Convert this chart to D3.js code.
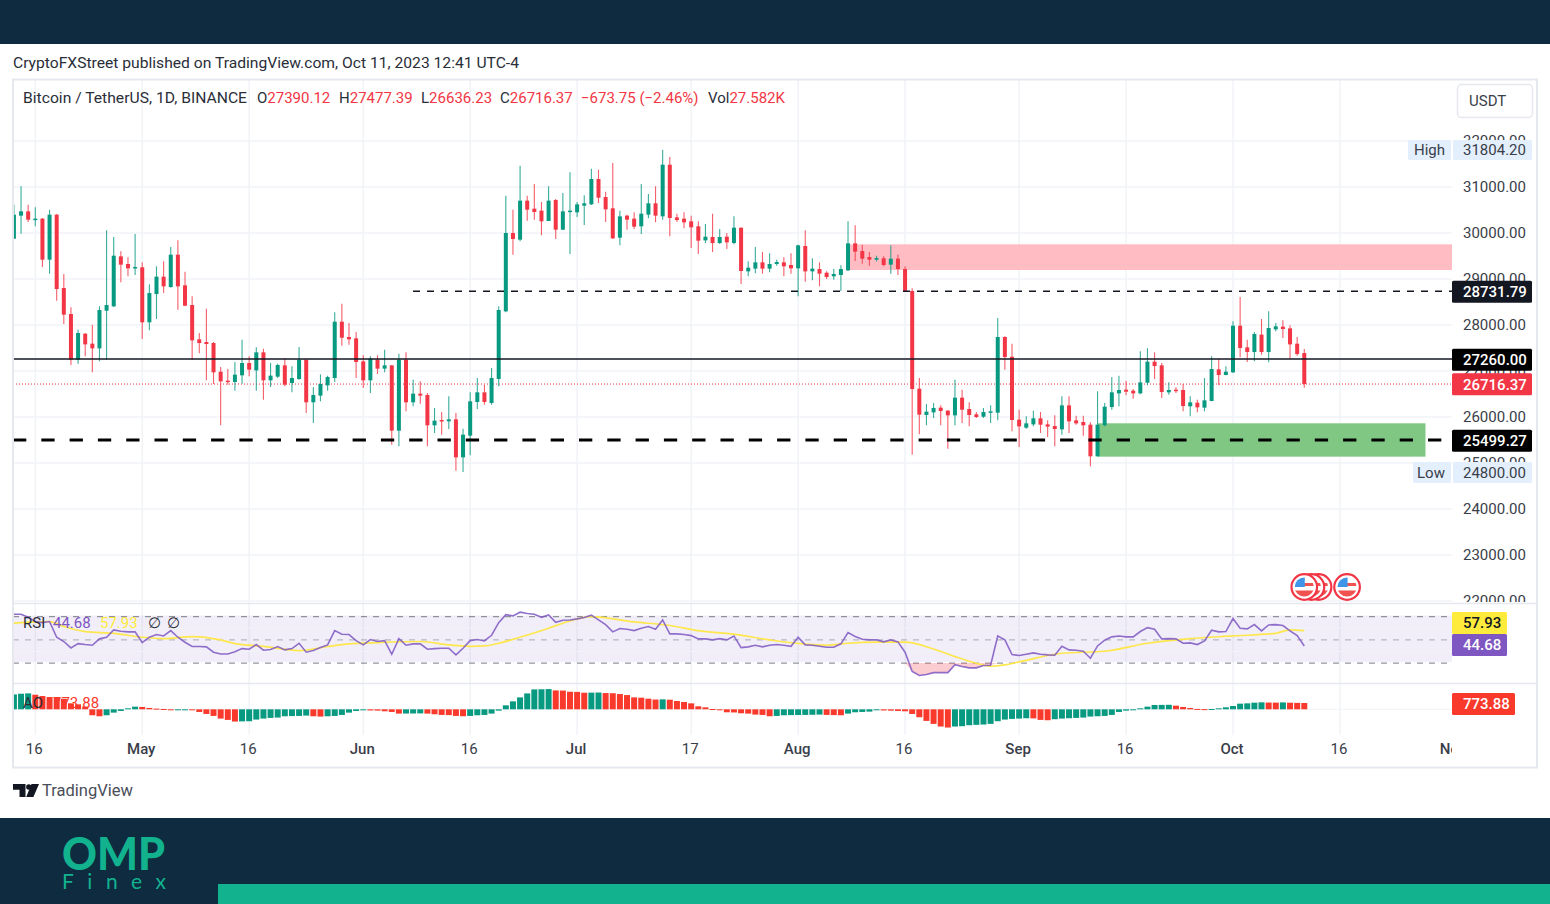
<!DOCTYPE html>
<html><head><meta charset="utf-8">
<style>
html,body{margin:0;padding:0;background:#fff;}
svg{display:block;}
text{font-family:Roboto,"Open Sans",sans-serif;}
</style>
<script src="https://cdn.jsdelivr.net/npm/d3@7"></script>
</head><body>
<svg id="c" width="1550" height="904"></svg>
<script>
const firstDay = "2023-04-13";
const opens = [29876,30377,30471,30290,30312,29420,30399,28804,28239,27246,27811,27594,27492,28311,28406,29492,29326,29232,29254,28058,28673,29051,28826,29529,28862,28434,27688,27630,27608,26985,26790,26761,26906,27174,27014,27406,26797,26877,27123,26739,26826,27246,26319,26464,26688,26848,28072,27739,27710,27210,26797,27246,27051,27123,25703,27246,26319,26507,26478,25819,25935,25906,25949,25123,25594,26326,26536,26304,26826,28297,30000,29855,30703,30529,30486,30261,30717,30072,30456,30449,30594,30623,31174,30782,30536,29898,30377,30312,30145,30399,30645,30362,31485,30340,30312,30254,30145,29840,29913,29782,29920,29782,30116,29166,29225,29362,29225,29326,29362,29304,29232,29717,29166,29217,29137,29058,29087,29188,29775,29608,29478,29420,29449,29312,29442,29217,28739,26616,26043,26101,26203,26138,26036,26420,26174,26058,26007,26094,26094,27739,27311,25942,25768,25840,25971,25840,25804,25732,26253,25927,25891,25833,25145,25819,26217,26514,26594,26572,26514,26746,27203,27123,26536,26594,26587,26232,26311,26203,26348,27036,26913,26971,27985,27514,27413,27790,27413,27905,27964,27927,27594,27390.12];
const highs = [30616,31014,30616,30558,30326,30507,30413,29109,28384,27898,27826,28007,28406,30058,29913,29601,29471,29978,29362,28884,29276,29384,29695,29840,29159,28623,27826,28355,27630,27087,27043,27196,27681,27319,27514,27485,27174,27160,27283,27101,27521,27246,26645,26927,26899,28275,28463,28043,27848,27341,27319,27341,27463,27123,27377,27406,26811,26775,26521,26196,26109,26449,26087,25746,26536,26848,26703,27065,28406,30811,30507,31463,30811,31065,30674,31014,30739,30869,31319,30674,30818,31398,31376,30898,31521,30486,30399,30449,31065,30848,31014,31804.2,31652,30420,30449,30377,30254,30195,30420,30087,30000,30362,30116,29384,29695,29587,29558,29420,29471,29558,29746,30058,29449,29362,29166,29225,29297,30254,30167,29746,29587,29507,29492,29732,29529,29276,28797,26848,26283,26304,26254,26152,26811,26594,26319,26109,26196,26254,28152,27753,27594,26159,26014,26138,26109,25927,26036,26449,26449,26029,26029,25884,26558,26304,26869,26898,26790,26608,27427,27492,27405,27174,26753,26645,26717,26449,26376,26847,27319,27260,27101,28079,28608,27681,27848,28130,28297,28043,28101,27992,27739,27477.39];
const lows = [29876,29985,30240,30145,29261,29116,28529,28022,27130,27160,27319,26971,27210,27246,28391,28927,29058,29087,27696,27884,28130,28695,28811,28333,28406,27246,27384,26797,26717,25819,26703,26572,26725,26884,26572,26377,26652,26848,26666,26536,26811,26087,25870,26341,26572,26761,27550,27572,26848,26630,26521,26935,26971,25399,25362,26123,26232,26290,25362,25652,25616,25739,24833,24804,25167,26174,26268,26268,26666,28275,29529,29819,30268,30290,29949,30261,29869,30072,29543,30348,30174,30608,30652,30239,29869,29732,30072,30087,29978,30319,30232,30290,29927,30239,30101,29674,29543,29782,29587,29761,29652,29753,28891,29058,29123,29116,29145,29290,29058,29116,28623,28942,28971,28840,29000,28985,28739,29174,29391,29333,29290,29384,29275,29116,29087,28724,25181,25623,25819,25978,25819,25311,25819,25870,25797,25978,25978,25870,25927,27029,25688,25348,25746,25797,25652,25565,25362,25616,25652,25833,25594,24927,25145,25797,26159,26232,26471,26398,26492,26688,26826,26413,26485,26521,26123,26014,26101,26123,26340,26688,26906,26956,27297,27195,27210,27355,27188,27862,27717,27260,27333,26636.23];
const closes = [30399,30471,30290,30312,29420,30399,28782,28225,27246,27826,27579,27492,28326,28434,29507,29312,29232,29261,28058,28695,29051,28840,29529,28840,28420,27666,27608,27587,26971,26775,26761,26920,27174,27029,27406,26797,26899,27130,26703,26848,27246,26319,26478,26717,26870,28072,27724,27688,27196,26797,27268,27051,27123,25703,27246,26319,26507,26464,25819,25920,25906,25949,25123,25616,26341,26536,26326,26848,28326,30000,29869,30703,30507,30456,30254,30703,30072,30471,30486,30623,30645,31174,30768,30514,29884,30362,30290,30138,30420,30645,30377,31485,30326,30282,30232,30123,29833,29920,29782,29913,29797,30116,29174,29246,29362,29225,29326,29369,29276,29232,29732,29166,29225,29116,29043,29109,29217,29775,29594,29442,29420,29456,29304,29442,29217,28739,26608,26051,26116,26196,26130,26036,26420,26159,26043,26000,26109,26123,27739,27304,25935,25797,25862,25971,25833,25790,25739,26253,25906,25862,25819,25145,25833,26224,26536,26587,26550,26514,26753,27203,27108,26543,26587,26565,26239,26319,26210,26362,27043,26913,26985,27985,27500,27413,27804,27413,27934,27971,27913,27579,27369,26716.37];
const rsi = [72.1,72.1,69.5,65.8,64.9,65.8,52.3,48.6,43.1,46.8,46.0,45.4,50.9,52.3,58.6,57.5,56.9,56.9,47.7,52.3,54.6,53.4,58.0,52.3,48.0,44.3,44.3,44.0,39.4,37.9,37.9,39.7,42.5,42.0,46.0,41.1,41.7,44.3,41.4,42.5,47.1,39.4,40.8,43.4,45.7,58.0,54.9,54.6,49.4,45.7,50.3,48.6,49.4,37.6,51.1,45.4,46.6,46.6,42.0,42.5,42.8,42.8,37.1,42.8,49.4,50.3,49.1,54.0,64.9,71.8,70.7,73.9,72.7,72.1,69.5,71.6,65.2,67.0,67.2,68.1,69.3,71.3,67.2,63.2,56.9,59.8,59.2,58.0,60.1,61.5,59.2,67.2,55.2,55.2,54.6,53.7,50.9,50.9,50.0,51.1,50.0,53.4,43.4,44.0,45.4,44.0,45.4,46.0,45.4,44.5,52.3,45.7,45.4,44.5,43.7,43.7,46.6,56.3,52.9,50.6,50.0,50.0,48.3,50.0,48.3,39.4,22.7,19.3,20.1,21.8,21.8,21.8,28.7,27.0,25.9,25.9,27.9,28.2,53.4,50.0,37.4,36.5,37.6,38.8,37.6,37.1,36.8,44.5,41.4,41.1,40.2,34.2,44.8,49.7,52.6,53.4,52.6,52.6,57.2,60.6,59.2,50.9,51.1,50.9,47.1,47.4,46.0,49.1,58.3,56.9,57.2,68.4,60.1,59.5,63.2,57.8,62.9,63.2,62.4,57.8,53.7,44.68];
const rsiMaBars = [0,3,5,7,10,14,18,21,25,29,31,35,40,44,47,51,57,61,64,66,68,71,75,77,81,87,92,96,101,106,111,114,117,121,125,129,132,135,137,139,141,147,153,159,165,171,177,179,181];
const rsiMa = [64.4,65.5,65.8,61.5,57.2,55.7,52.3,51.1,52.9,50.0,46.8,44.5,40.8,44.3,46.6,47.7,48.6,45.7,44.5,44.8,47.1,52.3,60.1,64.4,70.1,65.5,62.4,58.0,54.9,50.0,46.3,45.4,47.1,48.0,48.0,42.2,35.6,29.9,27.3,28.4,31.0,38.5,40.2,47.1,51.1,53.4,55.7,58.6,57.93];
const ao = [1830,1913,1954,1791,1628,1506,1425,1302,733,610,326,-733,-855,-733,-407,-204,122,326,285,163,81,41,-122,-41,-12,-81,-326,-570,-814,-1140,-1302,-1506,-1486,-1465,-1262,-1140,-1058,-1018,-855,-834,-814,-773,-855,-895,-855,-814,-692,-407,-204,-122,-142,-163,-244,-326,-529,-521,-513,-505,-529,-610,-692,-712,-814,-855,-814,-733,-692,-529,-163,488,977,1465,1954,2442,2462,2483,2320,2300,2157,2137,2035,2047,2059,1994,1974,1872,1750,1465,1425,1302,1200,1221,1180,1018,895,733,366,244,41,-122,-366,-387,-488,-529,-651,-692,-855,-814,-733,-712,-700,-692,-672,-651,-692,-712,-733,-529,-366,-326,-285,-122,-142,-163,-204,-244,-570,-977,-1425,-1791,-2116,-2239,-2116,-2076,-1954,-1913,-1872,-1791,-1465,-1262,-1180,-1140,-1099,-1119,-1302,-1343,-1221,-1140,-1099,-1058,-1018,-895,-855,-814,-692,-326,-163,-81,122,326,529,541,553,448,285,163,41,20,41,122,244,407,692,733,814,855,830,820,845,810,790,773.88];
const priceTicks = [22000,23000,24000,25000,26000,27000,28000,29000,30000,31000,32000];
const timeTickDates = ["2023-04-16","2023-05-01","2023-05-16","2023-06-01","2023-06-16","2023-07-01","2023-07-17","2023-08-01","2023-08-16","2023-09-01","2023-09-16","2023-10-01","2023-10-16","2023-11-01"];
const timeTickLabels = ["16","May","16","Jun","16","Jul","17","Aug","16","Sep","16","Oct","16","Nov"];
const eventDates = ["2023-10-17","2023-10-13","2023-10-12","2023-10-11"];
const resistanceZone = {from:"2023-08-08", top:29754, bottom:29196};
const supportZone = {from:"2023-09-12", to:"2023-10-28", top:25863, bottom:25138};
const level1 = 28731.79, level2 = 27260.00, level3 = 25499.27, lastPrice = 26716.37, highPrice = 31804.20, lowPrice = 24800.00;
const lastRsi = 44.68, lastRsiMa = 57.93, lastAo = 773.88;

const GREEN="#089981", RED="#f23645", INK="#131722", NAVY="#0e2b40", TEAL="#12b28f", GRID="#f1f3f7", SEP="#e6e8ef";
const parse = d3.utcParse("%Y-%m-%d");
const dates = d3.utcDay.range(parse(firstDay), d3.utcDay.offset(parse(firstDay), opens.length));
const svg = d3.select("#c");
const plotL=13, plotR=1452, plotT=80, paneB=603.5, rsiB=683.5, timeT=735;

const x = d3.scaleUtc().domain([parse("2023-04-16"),parse("2023-10-01")]).range([35.3,1233]);
const y = d3.scaleLinear().domain([31000,22000]).range([187,601]);
const yR = d3.scaleLinear().domain([70,30]).range([616.7,663.1]);
const yA = d3.scaleLinear().domain([0,773.88]).range([709.3,703]);

const defs = svg.append("defs");
const cp=(id,a,b,c,d)=>defs.append("clipPath").attr("id",id).append("rect").attr("x",a).attr("y",b).attr("width",c-a).attr("height",d-b);
cp("plot",plotL,plotT,plotR,timeT);
cp("main",plotL,plotT,plotR,paneB);
cp("axisP",plotR,120,1537,602);
cp("axisT",plotL,timeT,plotR,768);
defs.append("clipPath").attr("id","flag").append("circle").attr("r",9.6);

// bands
svg.append("rect").attr("width",1550).attr("height",44).attr("fill",NAVY);
svg.append("rect").attr("y",818).attr("width",1550).attr("height",86).attr("fill",NAVY);
svg.append("rect").attr("x",218).attr("y",884).attr("width",1332).attr("height",20).attr("fill",TEAL);
svg.append("text").attr("x",13).attr("y",68).attr("font-size",15.5).attr("fill","#2a2e39").attr("textLength",506).attr("lengthAdjust","spacingAndGlyphs").text("CryptoFXStreet published on TradingView.com, Oct 11, 2023 12:41 UTC-4");

// grid
const plot = svg.append("g").attr("clip-path","url(#plot)");
plot.selectAll(".gv").data(timeTickDates).join("line").attr("x1",d=>x(parse(d))).attr("x2",d=>x(parse(d))).attr("y1",plotT).attr("y2",timeT).attr("stroke",GRID).attr("stroke-width",1.5);
const main = svg.append("g").attr("clip-path","url(#main)");
main.selectAll(".gh").data(priceTicks).join("line").attr("x1",plotL).attr("x2",plotR).attr("y1",d=>y(d)).attr("y2",d=>y(d)).attr("stroke",GRID).attr("stroke-width",1.5);

// zones
main.append("rect").attr("x",x(parse(resistanceZone.from))).attr("width",plotR-x(parse(resistanceZone.from))).attr("y",y(resistanceZone.top)).attr("height",y(resistanceZone.bottom)-y(resistanceZone.top)).attr("fill","#ffbcc3");
main.append("rect").attr("x",x(parse(supportZone.from))).attr("width",x(parse(supportZone.to))-x(parse(supportZone.from))).attr("y",y(supportZone.top)).attr("height",y(supportZone.bottom)-y(supportZone.top)).attr("fill","#81c784");

// last price dotted
main.append("line").attr("x1",plotL).attr("x2",plotR).attr("y1",y(lastPrice)).attr("y2",y(lastPrice)).attr("stroke",RED).attr("stroke-width",1).attr("stroke-dasharray","1 2");

// candles
const cand = main.selectAll(".cd").data(dates).join("g");
cand.append("line").attr("x1",d=>x(d)).attr("x2",d=>x(d)).attr("y1",(d,i)=>y(highs[i])).attr("y2",(d,i)=>y(lows[i])).attr("stroke",(d,i)=>closes[i]>=opens[i]?GREEN:RED).attr("stroke-width",1.1).attr("stroke-opacity",.8);
cand.append("rect").attr("x",d=>x(d)-2).attr("width",4).attr("y",(d,i)=>y(Math.max(opens[i],closes[i]))).attr("height",(d,i)=>Math.max(1.5,Math.abs(y(opens[i])-y(closes[i])))).attr("fill",(d,i)=>closes[i]>=opens[i]?GREEN:RED);

// levels
main.append("line").attr("x1",413).attr("x2",plotR).attr("y1",y(level1)).attr("y2",y(level1)).attr("stroke",INK).attr("stroke-width",1.5).attr("stroke-dasharray","7 7");
main.append("line").attr("x1",plotL).attr("x2",plotR).attr("y1",y(level2)).attr("y2",y(level2)).attr("stroke",INK).attr("stroke-width",1.5);
main.append("line").attr("x1",plotL).attr("x2",plotR).attr("y1",y(level3)).attr("y2",y(level3)).attr("stroke","#000").attr("stroke-width",3).attr("stroke-dasharray","13.3 15");

// events
const ev = svg.append("g").selectAll("g").data(eventDates).join("g").attr("transform",d=>`translate(${x(parse(d))},587)`);
ev.append("circle").attr("r",12.8).attr("fill","#fff").attr("stroke",RED).attr("stroke-width",2.2);
const fl = ev.append("g").attr("clip-path","url(#flag)");
fl.append("rect").attr("x",-10).attr("y",-10).attr("width",20).attr("height",20).attr("fill","#fff");
fl.append("rect").attr("x",-1).attr("y",-4).attr("width",11).attr("height",3).attr("fill","#f0524f");
fl.append("rect").attr("x",-10).attr("y",3.5).attr("width",20).attr("height",7).attr("fill","#f0524f");
fl.append("rect").attr("x",-10).attr("y",-10).attr("width",10.5).attr("height",10).attr("fill","#3f96e8");

// RSI pane
plot.append("rect").attr("x",plotL).attr("width",plotR-plotL).attr("y",yR(71)).attr("height",yR(31)-yR(71)).attr("fill","#7e57c2").attr("fill-opacity",.1);
[40,60].forEach(v=>plot.append("line").attr("x1",plotL).attr("x2",plotR).attr("y1",yR(v)).attr("y2",yR(v)).attr("stroke",GRID).attr("stroke-width",1));
[70,50,30].forEach(v=>plot.append("line").attr("x1",plotL).attr("x2",plotR).attr("y1",yR(v)).attr("y2",yR(v)).attr("stroke",v===50?"#a9abb3":"#787b86").attr("stroke-width",1).attr("stroke-dasharray","6 6"));
plot.append("path").datum(rsi).attr("fill",RED).attr("fill-opacity",.25).attr("d",d3.area().x((d,i)=>x(dates[i])).y0(yR(30)).y1(d=>yR(Math.min(d,30))));
plot.append("path").datum(rsiMa).attr("fill","none").attr("stroke","#fde74c").attr("stroke-width",1.7).attr("d",d3.line().x((d,i)=>x(dates[rsiMaBars[i]])).y(d=>yR(d)).curve(d3.curveMonotoneX));
plot.append("path").datum(rsi).attr("fill","none").attr("stroke","#7e57c2").attr("stroke-width",1.6).attr("stroke-opacity",.85).attr("d",d3.line().x((d,i)=>x(dates[i])).y(d=>yR(d)));

// AO pane
plot.append("line").attr("x1",plotL).attr("x2",plotR).attr("y1",yA(0)).attr("y2",yA(0)).attr("stroke",GRID);
plot.selectAll(".ao").data(ao).join("rect").attr("x",(d,i)=>x(dates[i])-3).attr("width",6)
 .attr("y",d=>Math.min(yA(0),yA(d))).attr("height",d=>Math.max(1,Math.abs(yA(d)-yA(0))))
 .attr("fill",(d,i)=>i===0||d>=ao[i-1]?GREEN:"#f9392b");

// separators & frame
svg.append("rect").attr("x",plotL).attr("y",79.5).attr("width",1524).attr("height",688).attr("fill","none").attr("stroke",SEP).attr("stroke-width",2);
[paneB,rsiB].forEach(v=>svg.append("line").attr("x1",plotL).attr("x2",1537).attr("y1",v).attr("y2",v).attr("stroke",SEP).attr("stroke-width",1.6));

// price axis
const axP = svg.append("g").attr("clip-path","url(#axisP)").append("g").attr("transform",`translate(${plotR},0)`)
 .call(d3.axisRight(y).tickValues(priceTicks).tickSize(0).tickPadding(11).tickFormat(d3.format(".2f")));
axP.select(".domain").remove();
axP.selectAll("text").attr("font-size",15).attr("fill","#3a3e49").style("font-family","Roboto");

// time axis
const axT = svg.append("g").attr("clip-path","url(#axisT)").append("g").attr("transform",`translate(-1.5,${timeT+1.5})`)
 .call(d3.axisBottom(x).tickValues(timeTickDates.map(parse)).tickSize(0).tickPadding(7).tickFormat((d,i)=>timeTickLabels[i]));
axT.select(".domain").remove();
axT.selectAll("text").attr("font-size",15).attr("fill","#3a3e49").style("font-family","Roboto").attr("font-weight",(d,i)=>/\d/.test(timeTickLabels[i])?400:500);

// price tags
function tag(a,b,cy,h,fill,txt,col,tx,wt){
 svg.append("rect").attr("x",a).attr("y",cy-h/2).attr("width",b-a).attr("height",h).attr("rx",1.5).attr("fill",fill);
 svg.append("text").attr("x",tx).attr("y",cy).attr("dy","0.36em").attr("font-size",15).attr("font-weight",wt||400).attr("fill",col).text(txt);
}
const f2=d3.format(".2f");
tag(1408,1451,y(highPrice),20,"#e3effd","High","#3a3e49",1414);
tag(1453,1532,y(highPrice),20,"#e3effd",f2(highPrice),"#3a3e49",1463);
tag(1413,1451,472.5,21,"#e3effd","Low","#3a3e49",1417);
tag(1453,1532,472.5,21,"#e3effd",f2(lowPrice),"#3a3e49",1463);
tag(1452,1532,y(level1)+.3,22,INK,f2(level1),"#fff",1463,500);
tag(1452,1532,y(level2)+.7,22,"#000",f2(level2),"#fff",1463,500);
tag(1452,1532,y(lastPrice)+.3,22,RED,f2(lastPrice),"#fff",1463,500);
tag(1452,1532,y(level3)+.6,22,"#000",f2(level3),"#fff",1463,500);
tag(1452,1507,623,22,"#ffeb3b",f2(lastRsiMa),INK,1463,500);
tag(1452,1507,645,22,"#7e57c2",f2(lastRsi),"#fff",1463,500);
tag(1452,1515,704,22,"#f9392b",f2(lastAo),"#fff",1463,500);

// USDT button
svg.append("rect").attr("x",1457.5).attr("y",84.5).attr("width",75).attr("height",33).attr("rx",4).attr("fill","#fff").attr("stroke","#e6e8ef").attr("stroke-width",1.5);
svg.append("text").attr("x",1469).attr("y",101).attr("dy","0.36em").attr("font-size",15).attr("fill","#3a3e49").text("USDT");

// legends
function lg(xp,yp,txt,col,w){ const t=svg.append("text").attr("x",xp).attr("y",yp).attr("dy","0.36em").attr("font-size",15).attr("font-weight",w||400).attr("fill",col).text(txt); return t; }
lg(23,98,"Bitcoin / TetherUS, 1D, BINANCE","#2a2e39").attr("textLength",224).attr("lengthAdjust","spacingAndGlyphs");
[[257,"O","27390.12"],[339,"H","27477.39"],[421,"L","26636.23"],[500,"C","26716.37"]].forEach(([a,k,v])=>{
 const t=lg(a,98,"","#2a2e39"); t.append("tspan").text(k); t.append("tspan").attr("fill",RED).text(v);
});
lg(581,98,"\u2212673.75 (\u22122.46%)",RED);
{const t=lg(708,98,"","#2a2e39"); t.append("tspan").text("Vol"); t.append("tspan").attr("fill",RED).text("27.582K");}
lg(23,623,"RSI","#2a2e39");
lg(53,623,f2(lastRsi),"#7e57c2");
lg(100,623,f2(lastRsiMa),"#ffeb3b");
lg(148,623,"\u2205","#2a2e39");
lg(167,623,"\u2205","#2a2e39");
lg(23,703,"AO","#2a2e39");
lg(53,703,f2(lastAo),"#f9392b");

// TradingView mark
svg.append("path").attr("d","M13 784h12.5v13h-6v-7.2H13z M31.5 784h7.5l-5.6 13h-7.2z").attr("fill",INK);
svg.append("circle").attr("cx",28.8).attr("cy",787).attr("r",2.7).attr("fill",INK);
svg.append("text").attr("x",42).attr("y",790.5).attr("dy","0.34em").attr("font-size",16.5).attr("fill","#4a4e59").text("TradingView");

// OMP Finex
svg.append("text").attr("x",62).attr("y",869.5).style("font-family","Lato").attr("font-size",45).attr("font-weight",900).attr("fill",TEAL).attr("textLength",103).attr("lengthAdjust","spacingAndGlyphs").text("OMP");
svg.append("text").attr("x",62).attr("y",889).style("font-family","Lato").attr("font-size",21).attr("font-weight",400).attr("fill",TEAL).attr("textLength",104).text("Finex");
</script>
</body></html>
